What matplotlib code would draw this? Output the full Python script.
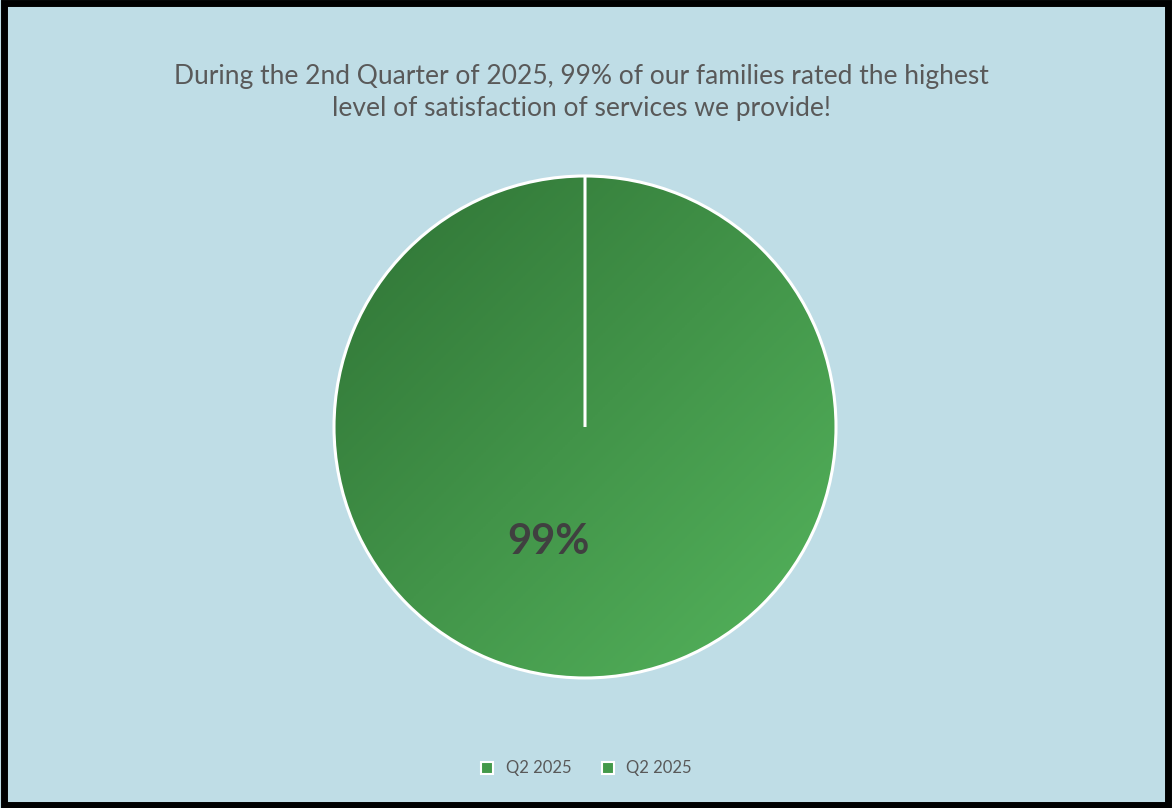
import numpy as np
import matplotlib
matplotlib.use("Agg")
import matplotlib.pyplot as plt
from matplotlib.colors import LinearSegmentedColormap
from matplotlib.patches import Rectangle

plt.rcParams["font.family"] = ["Lato", "DejaVu Sans"]

labels = ["Q2 2025", "Q2 2025"]
values = [99, 0]
pct_label = "99%"
title = ("During the 2nd Quarter of 2025, 99% of our families rated the highest\n"
         "level of satisfaction of services we provide!")

BG = "#bfdde6"
fig = plt.figure(figsize=(11.72, 8.08), dpi=100, facecolor=BG)
fig.patches.append(Rectangle((0.003, 0.004), 0.994, 0.992, transform=fig.transFigure,
                             fill=False, edgecolor="black", linewidth=5))

ax = fig.add_axes([0.2807, 0.1547, 0.4369, 0.6337])
ax.set_facecolor(BG)
wedges, _ = ax.pie(values, startangle=90, counterclock=False, radius=1,
                   colors=["#43994a", "#43994a"],
                   wedgeprops={"edgecolor": "white", "linewidth": 2.2})
ax.set_xlim(-1.02, 1.02)
ax.set_ylim(-1.02, 1.02)
ax.set_aspect("equal")
ax.axis("off")

# diagonal gradient fill, dark top-left to light bottom-right
cmap = LinearSegmentedColormap.from_list("g", ["#2f7335", "#55b55d"])
yy, xx = np.mgrid[1:-1:300j, -1:1:300j]
grad = (xx - yy)
img = ax.imshow(grad, cmap=cmap, extent=[-1, 1, -1, 1], zorder=0.5, origin="upper")
img.set_clip_path(wedges[0])
for w in wedges:
    w.set_zorder(1)
    w.set_facecolor("none")

ax.text(-0.145, -0.46, pct_label, ha="center", va="center", fontsize=30,
        fontweight="bold", color="#404040")

fig.text(0.496, 0.885, title, ha="center", va="center", fontsize=19,
         color="#595959", linespacing=1.35)

handles = [plt.Line2D([], [], marker="s", linestyle="", markersize=8,
                      markerfacecolor="#43994a", markeredgecolor="white",
                      markeredgewidth=1.5) for _ in labels]
fig.legend(handles, labels, loc="center", bbox_to_anchor=(0.496, 0.049), ncol=2,
           frameon=False, fontsize=12, labelcolor="#595959", handletextpad=0.1,
           columnspacing=1.2)

fig.savefig("out.png", dpi=100, facecolor=BG)
